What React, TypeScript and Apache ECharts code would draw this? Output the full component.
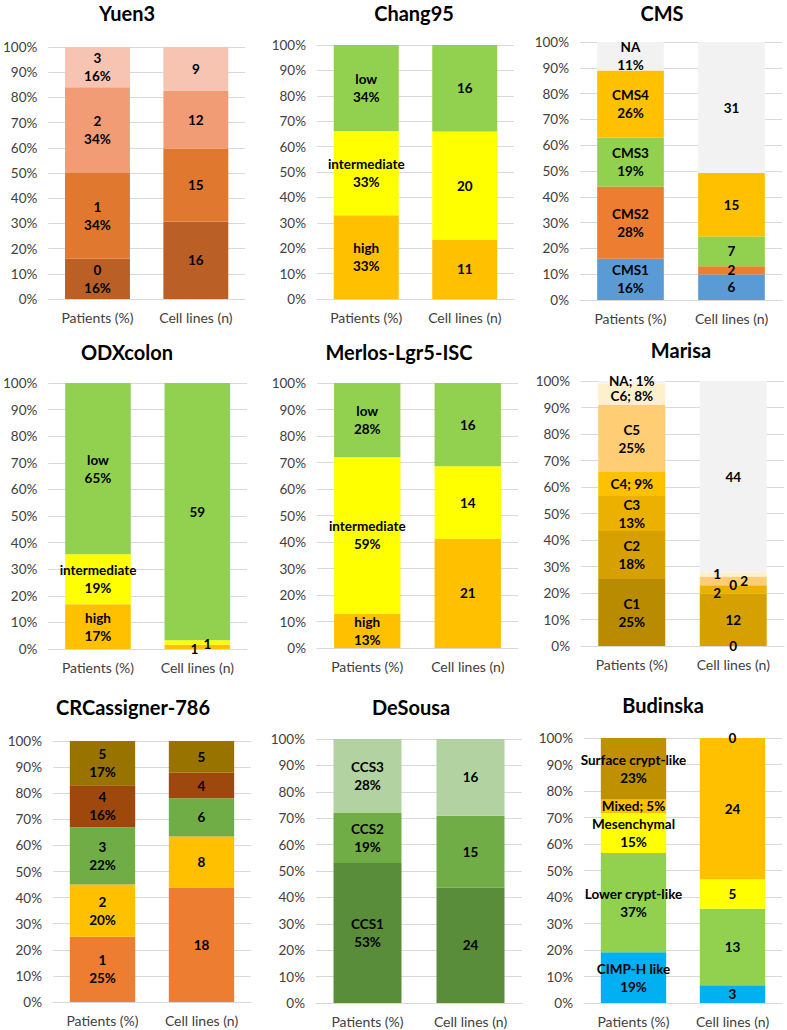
import React, { useEffect, useRef } from "react";
import * as echarts from "echarts";

const xCategories = ["Patients (%)", "Cell lines (n)"];
const titles = ["Yuen3", "Chang95", "CMS", "ODXcolon", "Merlos-Lgr5-ISC", "Marisa", "CRCassigner-786", "DeSousa", "Budinska"];

const yuen3Groups = ["0", "1", "2", "3"];
const yuen3Patients = [16, 34, 34, 16];
const yuen3Cells = [16, 15, 12, 9];

const chang95Groups = ["high", "intermediate", "low"];
const chang95Patients = [33, 33, 34];
const chang95Cells = [11, 20, 16];

const cmsGroups = ["CMS1", "CMS2", "CMS3", "CMS4", "NA"];
const cmsPatients = [16, 28, 19, 26, 11];
const cmsCells = [6, 2, 7, 15, 31];

const odxGroups = ["high", "intermediate", "low"];
const odxPatients = [17, 19, 65];
const odxCells = [1, 1, 59];

const merlosGroups = ["high", "intermediate", "low"];
const merlosPatients = [13, 59, 28];
const merlosCells = [21, 14, 16];

const marisaGroups = ["C1", "C2", "C3", "C4", "C5", "C6", "NA"];
const marisaPatients = [25, 18, 13, 9, 25, 8, 1];
const marisaCells = [0, 12, 2, 0, 2, 1, 44];

const crcGroups = ["1", "2", "3", "4", "5"];
const crcPatients = [25, 20, 22, 16, 17];
const crcCells = [18, 8, 6, 4, 5];

const desousaGroups = ["CCS1", "CCS2", "CCS3"];
const desousaPatients = [53, 19, 28];
const desousaCells = [24, 15, 16];

const budinskaGroups = ["CIMP-H like", "Lower crypt-like", "Mesenchymal", "Mixed", "Surface crypt-like"];
const budinskaPatients = [19, 37, 15, 5, 23];
const budinskaCells = [3, 13, 5, 24, 0];

// styles
const FONT = "Lato, 'Open Sans', sans-serif";
const colorsYuen = ["#BA5F26", "#E07830", "#F19C74", "#F6C4B1"];
const colorsRisk = ["#FFC000", "#FFFF00", "#92D050"];
const colorsCms = ["#5B9BD5", "#ED7D31", "#92D050", "#FFC000", "#F2F2F2"];
const colorsMarisa = ["#B98B00", "#D5A000", "#EBB000", "#FFC000", "#FFCD73", "#FFF0CC", "#F2F2F2"];
const colorsCrc = ["#ED7D31", "#FFC000", "#70AD47", "#9E480E", "#997300"];
const colorsDesousa = ["#5A8D3A", "#70AD47", "#B2D3A1"];
const colorsBudinska = ["#00B0F0", "#92D050", "#FFFF00", "#FFC000", "#BF9000"];

type Panel = {
  groups: string[];
  patients: number[];
  cells: number[];
  colors: string[];
  inline?: string[];
  cellOffsets?: number[][];
  patientOffsets?: number[][];
  rect: number[];
  titlePos: number[];
};

const panels: Panel[] = [
  { groups: yuen3Groups, patients: yuen3Patients, cells: yuen3Cells, colors: colorsYuen, rect: [44, 47, 201, 252], titlePos: [127, 13] },
  { groups: chang95Groups, patients: chang95Patients, cells: chang95Cells, colors: colorsRisk, rect: [317, 45, 197, 254], titlePos: [414, 13] },
  { groups: cmsGroups, patients: cmsPatients, cells: cmsCells, colors: colorsCms, rect: [580, 42, 202, 258], titlePos: [662, 13] },
  { groups: odxGroups, patients: odxPatients, cells: odxCells, colors: colorsRisk, cellOffsets: [[-3, 2], [10, 2], [0, 0]], rect: [48, 383, 199, 266], titlePos: [127, 352] },
  { groups: merlosGroups, patients: merlosPatients, cells: merlosCells, colors: colorsRisk, rect: [317, 383, 201, 265], titlePos: [399, 352] },
  {
    groups: marisaGroups, patients: marisaPatients, cells: marisaCells, colors: colorsMarisa, inline: ["C4", "C6", "NA"],
    cellOffsets: [[0, 0], [0, 0], [-16, 3], [0, 0], [11, 0], [-16, 0], [0, 0]],
    patientOffsets: [[0, 0], [0, 0], [0, 0], [0, 0], [0, 0], [0, 2], [0, -1]],
    rect: [581, 381, 203, 265], titlePos: [681, 350],
  },
  { groups: crcGroups, patients: crcPatients, cells: crcCells, colors: colorsCrc, rect: [53, 741, 198, 261], titlePos: [133, 707] },
  { groups: desousaGroups, patients: desousaPatients, cells: desousaCells, colors: colorsDesousa, rect: [316, 739, 206, 264], titlePos: [411, 707] },
  { groups: budinskaGroups, patients: budinskaPatients, cells: budinskaCells, colors: colorsBudinska, inline: ["Mixed"], rect: [584, 738, 198, 265], titlePos: [663, 705] },
];

function buildOption() {
  const grid: any[] = [];
  const xAxis: any[] = [];
  const yAxis: any[] = [];
  const series: any[] = [];
  const graphic: any[] = [];
  panels.forEach((p, i) => {
    const [l, t, w, h] = p.rect;
    grid.push({ left: l, top: t, width: w, height: h, containLabel: false });
    xAxis.push({
      type: "category",
      gridIndex: i,
      data: xCategories,
      axisTick: { show: false },
      axisLine: { show: true, lineStyle: { color: "#D9D9D9", width: 1 } },
      axisLabel: { color: "#404040", fontSize: 14, fontFamily: FONT, margin: 11 },
    });
    yAxis.push({
      type: "value",
      gridIndex: i,
      min: 0,
      max: 100,
      interval: 10,
      axisLine: { show: false },
      axisTick: { show: false },
      axisLabel: { formatter: "{value}%", color: "#404040", fontSize: 13.5, fontFamily: FONT, margin: 11 },
      splitLine: { show: true, lineStyle: { color: "#D9D9D9", width: 1 } },
    });
    const pSum = p.patients.reduce((a, b) => a + b, 0);
    const cSum = p.cells.reduce((a, b) => a + b, 0);
    p.groups.forEach((g, j) => {
      const pv = p.patients[j];
      const cv = p.cells[j];
      const inline = p.inline && p.inline.includes(g);
      const pText = inline ? `${g}; ${pv}%` : `${g}\n${pv}%`;
      const off = p.cellOffsets ? p.cellOffsets[j] : [0, 0];
      const pOff = p.patientOffsets ? p.patientOffsets[j] : [0, 0];
      series.push({
        type: "bar",
        name: g,
        id: `s${i}_${j}`,
        xAxisIndex: i,
        yAxisIndex: i,
        stack: `stack${i}`,
        barWidth: "66%",
        itemStyle: { color: p.colors[j] },
        label: {
          show: true,
          position: "inside",
          color: "#000",
          fontWeight: "bold",
          fontSize: 13.5,
          lineHeight: 18,
          fontFamily: FONT,
        },
        data: [
          { value: (pv / pSum) * 100, label: { formatter: pText, offset: pOff } },
          { value: (cv / cSum) * 100, label: { formatter: String(cv), offset: off } },
        ],
      });
    });
    graphic.push({
      type: "text",
      x: p.titlePos[0],
      y: p.titlePos[1],
      style: {
        text: titles[i],
        font: `bold 20px ${FONT}`,
        fill: "#000",
        textAlign: "center",
        textVerticalAlign: "middle",
      },
    });
  });
  return {
    animation: false,
    backgroundColor: "#FFFFFF",
    grid,
    xAxis,
    yAxis,
    series,
    graphic,
  };
}

export default function App() {
  const ref = useRef<HTMLDivElement>(null);
  useEffect(() => {
    document.body.style.margin = "0";
    const chart = echarts.init(ref.current!, null, { renderer: "svg" });
    chart.setOption(buildOption() as any);
    return () => chart.dispose();
  }, []);
  return <div ref={ref} style={{ width: 787, height: 1030 }} />;
}
